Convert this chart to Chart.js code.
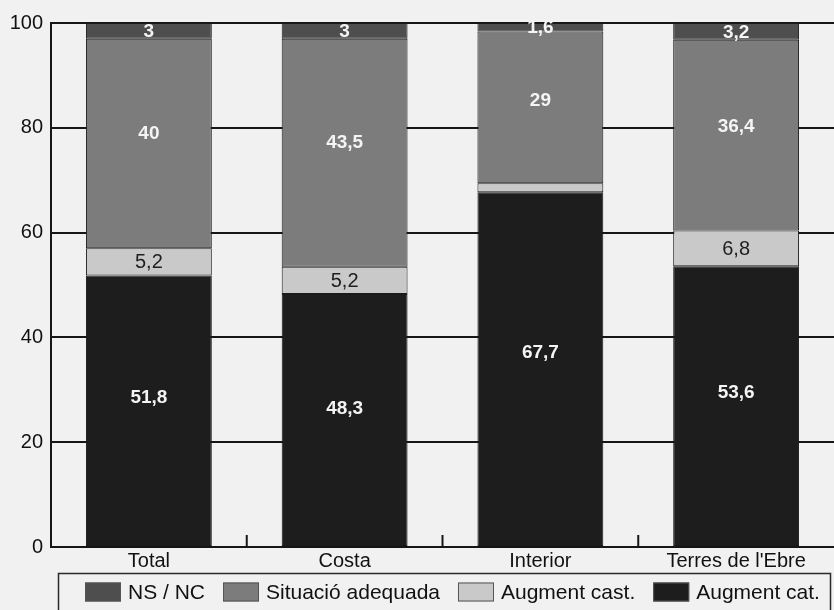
<!DOCTYPE html>
<html>
<head>
<meta charset="utf-8">
<script src="https://cdn.jsdelivr.net/npm/chart.js@4/dist/chart.umd.min.js"></script>
<style>
  html, body { margin: 0; padding: 0; background: #f1f1f1; overflow: hidden; }
  #wrap { width: 834px; height: 614px; }
</style>
</head>
<body>
<div id="wrap"><canvas id="c" width="834" height="614"></canvas></div>
<script>
// Categories and series (percentages per zone)
const categories = ['Total', 'Costa', 'Interior', "Terres de l'Ebre"];
const augmentCat = [51.8, 48.3, 67.7, 53.6];
const augmentCast = [5.2, 5.2, 1.7, 6.8];
const situacioAdequada = [40, 43.5, 29, 36.4];
const nsNc = [3, 3, 1.6, 3.2];
// Which segments carry a printed value
const castLabelled = [true, true, false, true];
const yTicks = [0, 20, 40, 60, 80, 100];

const FONT = "'Liberation Sans', Arial, sans-serif";
const fmt = v => String(v).replace('.', ',');

// Value labels drawn inside each segment
const segmentLabels = {
  id: 'segmentLabels',
  afterDatasetsDraw(chart) {
    const ctx = chart.ctx;
    chart.data.datasets.forEach((ds, di) => {
      const meta = chart.getDatasetMeta(di);
      meta.data.forEach((bar, i) => {
        if (ds.showLabel && !ds.showLabel[i]) return;
        const top = Math.min(bar.y, bar.base);
        const bottom = Math.max(bar.y, bar.base);
        const h = bottom - top;
        const y = h > 40 ? top + h * 0.45 : top + h / 2;
        ctx.save();
        ctx.font = ds.labelFont;
        ctx.fillStyle = ds.labelColor;
        ctx.textAlign = 'center';
        ctx.textBaseline = 'middle';
        ctx.fillText(fmt(ds.data[i]), bar.x, y + 1);
        ctx.restore();
      });
    });
  }
};

// Inner tick marks between categories, and a framed legend along the bottom
const extras = {
  id: 'extras',
  beforeDatasetsDraw(chart) {
    const ctx = chart.ctx;
    const x = chart.scales.x;
    const bottom = chart.chartArea.bottom;
    ctx.save();
    ctx.strokeStyle = '#161616';
    ctx.lineWidth = 2;
    for (let i = 1; i < categories.length; i++) {
      const px = (x.getPixelForValue(i - 1) + x.getPixelForValue(i)) / 2;
      ctx.beginPath();
      ctx.moveTo(px, bottom);
      ctx.lineTo(px, bottom - 12);
      ctx.stroke();
    }
    ctx.restore();
  },
  afterDraw(chart) {
    const ctx = chart.ctx;
    const top = chart.scales.x.bottom;
    ctx.save();
    // frame
    ctx.strokeStyle = '#2a2a2a';
    ctx.lineWidth = 1.5;
    ctx.strokeRect(58.5, top + 0.5, 772, 60);
    // entries, top series first
    ctx.font = '21px ' + FONT;
    ctx.textBaseline = 'middle';
    ctx.textAlign = 'left';
    let cx = 85;
    const cy = top + 19;
    const items = chart.data.datasets.slice().reverse();
    items.forEach(ds => {
      ctx.fillStyle = ds.backgroundColor;
      ctx.fillRect(cx, cy - 9.5, 36, 19);
      ctx.strokeStyle = '#555';
      ctx.lineWidth = 1;
      ctx.strokeRect(cx + 0.5, cy - 9, 35, 18);
      ctx.fillStyle = '#111';
      ctx.fillText(ds.label, cx + 43, cy + 1);
      cx += 43 + ctx.measureText(ds.label).width + 18;
    });
    ctx.restore();
  }
};

new Chart(document.getElementById('c'), {
  type: 'bar',
  data: {
    labels: categories,
    datasets: [
      { label: 'Augment cat.', data: augmentCat, backgroundColor: '#1d1d1d',
        labelColor: '#f4f4f4', labelFont: 'bold 19px ' + FONT },
      { label: 'Augment cast.', data: augmentCast, backgroundColor: '#c9c9c9',
        labelColor: '#1e1e1e', labelFont: '20px ' + FONT, showLabel: castLabelled },
      { label: 'Situació adequada', data: situacioAdequada, backgroundColor: '#7c7c7c',
        labelColor: '#f4f4f4', labelFont: 'bold 19px ' + FONT },
      { label: 'NS / NC', data: nsNc, backgroundColor: '#4e4e4e',
        labelColor: '#f4f4f4', labelFont: 'bold 19px ' + FONT }
    ].map(d => Object.assign(d, {
      borderColor: '#1a1a1a', borderWidth: 1, borderSkipped: false,
      categoryPercentage: 1.0, barPercentage: 0.643
    }))
  },
  options: {
    responsive: false,
    animation: false,
    devicePixelRatio: 1,
    layout: { padding: { top: 23, right: 0, bottom: 41, left: 0 } },
    scales: {
      x: {
        stacked: true,
        grid: { display: false, drawTicks: false, tickLength: 0 },
        border: { display: true, color: '#161616', width: 2 },
        ticks: { color: '#111', font: { family: FONT, size: 20 }, padding: 2, maxRotation: 0 },
        afterFit: s => { s.height = 26; }
      },
      y: {
        stacked: true,
        min: 0, max: 100,
        afterBuildTicks: s => { s.ticks = yTicks.map(v => ({ value: v })); },
        grid: { color: '#161616', lineWidth: 2, drawTicks: false },
        border: { display: true, color: '#161616', width: 2 },
        ticks: { color: '#111', font: { family: FONT, size: 20 }, padding: 8 },
        afterFit: s => { s.width = 51; }
      }
    },
    plugins: {
      legend: { display: false },
      tooltip: { enabled: false }
    }
  },
  plugins: [segmentLabels, extras]
});
</script>
</body>
</html>
